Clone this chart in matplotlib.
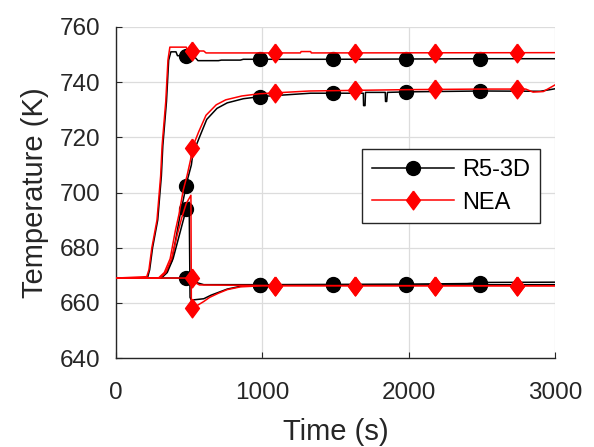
import numpy as np
import matplotlib
matplotlib.use("Agg")
import matplotlib.pyplot as plt
from matplotlib.lines import Line2D

plt.rcParams['font.family'] = ['Liberation Sans', 'DejaVu Sans']

# R5-3D (black) series
r5_top_t = [0, 215, 230, 250, 285, 310, 320, 345, 360, 375, 410, 420, 500, 540, 560, 700, 720, 850, 870, 1500, 2000, 2500, 3000]
r5_top_T = [669, 669, 672, 680, 690, 706, 717, 733, 748, 751, 751, 749.6, 749.6, 749, 747.8, 747.8, 748, 748, 748.3, 748.3, 748.4, 748.5, 748.5]

r5_mid_t = [0, 300, 340, 380, 415, 435, 470, 490, 515, 525, 570, 620, 690, 760, 870, 990, 1330, 1690, 1692, 1702, 1705,
            1840, 1842, 1850, 1855, 2000, 2500, 2900, 3000]
r5_mid_T = [669, 669, 671, 675, 685, 691, 700, 705, 710, 714, 720, 726.5, 730.5, 732.5, 734, 734.8, 736, 736, 731.5, 731.5, 736.3,
            736.3, 733, 733, 736.3, 736.5, 736.8, 736.7, 737.6]

r5_lowa_t = [0, 500, 540, 600, 1000, 2000, 2400, 2500, 3000]
r5_lowa_T = [669, 669, 667.5, 666.6, 666.6, 666.8, 667, 667.4, 667.5]

r5_lowb_t = [0, 310, 350, 390, 430, 460, 485, 500, 506, 515, 600, 650, 700, 760, 850, 1000, 3000]
r5_lowb_T = [669, 669, 671, 676, 684, 690, 695, 696.5, 662, 661, 661.5, 662.8, 663.8, 665, 666, 666.4, 666.6]

# NEA (red) series
nea_top_t = [0, 210, 225, 245, 280, 305, 315, 340, 355, 368, 480, 490, 600, 615, 1260, 1265, 1330, 1335, 3000]
nea_top_T = [669, 669.5, 672, 680, 690, 706, 717, 733, 748, 752.7, 752.7, 751.3, 751.3, 750.6, 750.6, 751.1, 751.1, 750.6, 750.7]

nea_mid_t = [0, 290, 330, 370, 405, 430, 460, 485, 510, 520, 565, 615, 685, 750, 860, 980, 1320, 2000, 2500, 2800, 2850, 2920, 3000]
nea_mid_T = [669, 669, 671, 676, 686, 692, 701, 706, 712, 716, 722, 728, 731.8, 733.6, 735, 735.8, 736.8, 737.3, 737.5, 737.5, 736.4, 736.6, 739]

nea_lowa_t = [0, 525, 535, 570, 1000, 3000]
nea_lowa_T = [669, 669, 667.5, 666.5, 666.3, 666.2]

nea_lowb_t = [0, 300, 340, 380, 420, 450, 480, 512, 515, 522, 600, 640, 700, 760, 850, 1000, 3000]
nea_lowb_T = [669, 669, 671, 676, 685, 691, 696, 699, 658, 658, 660.5, 662, 663.5, 664.8, 665.8, 666.2, 666.2]

r5_mark_t = [480, 985, 1485, 1985, 2490]
nea_mark_t = [520, 1090, 1630, 2180, 2740]

diamond = [(0, 1), (0.74, 0), (0, -1), (-0.74, 0), (0, 1)]

fig = plt.figure(figsize=(5.94, 4.47), dpi=100)
ax = fig.add_axes([0.1953, 0.199, 0.739, 0.7406])

r5 = [(r5_top_t, r5_top_T), (r5_mid_t, r5_mid_T), (r5_lowa_t, r5_lowa_T), (r5_lowb_t, r5_lowb_T)]
nea = [(nea_top_t, nea_top_T), (nea_mid_t, nea_mid_T), (nea_lowa_t, nea_lowa_T), (nea_lowb_t, nea_lowb_T)]

for t, T in r5:
    ax.plot(t, T, color='black', lw=1.1, zorder=3)
for t, T in r5:
    ax.plot(r5_mark_t, np.interp(r5_mark_t, t, T), ls='none', marker='o', ms=10,
            color='black', zorder=4)
for t, T in nea:
    ax.plot(t, T, color='red', lw=1.1, zorder=5)
for t, T in nea:
    ax.plot(nea_mark_t, np.interp(nea_mark_t, t, T), ls='none', marker=diamond, ms=13.5,
            color='red', zorder=6)

ax.set_xlim(0, 3000)
ax.set_ylim(640, 760)
ax.set_xticks([0, 1000, 2000, 3000])
ax.set_yticks(range(640, 761, 20))
ax.grid(True, color='#dcdcdc', lw=0.9)
ax.set_axisbelow(True)
for s in ['top', 'right']:
    ax.spines[s].set_visible(False)
for s in ['left', 'bottom']:
    ax.spines[s].set_color('#262626')
    ax.spines[s].set_linewidth(1.0)
ax.tick_params(direction='in', length=4, colors='#262626', labelsize=17.5)
ax.tick_params(axis='x', pad=17)
ax.tick_params(axis='y', pad=11)
ax.set_xlabel('Time (s)', fontsize=21, color='#262626', labelpad=10)
ax.set_ylabel('Temperature (K)', fontsize=21, color='#262626', labelpad=8)

handles = [Line2D([], [], color='black', lw=1.1, marker='o', ms=10),
           Line2D([], [], color='red', lw=1.1, marker=diamond, ms=13.5)]
leg = ax.legend(handles, ['R5-3D', 'NEA'], loc='upper right', bbox_to_anchor=(0.966, 0.63),
                borderaxespad=0, fontsize=17, handlelength=3.5, handletextpad=0.35,
                fancybox=False, framealpha=1, edgecolor='#262626', borderpad=0.4,
                labelspacing=0.45)
leg.get_frame().set_linewidth(1.0)

fig.savefig('out.png', dpi=100)
